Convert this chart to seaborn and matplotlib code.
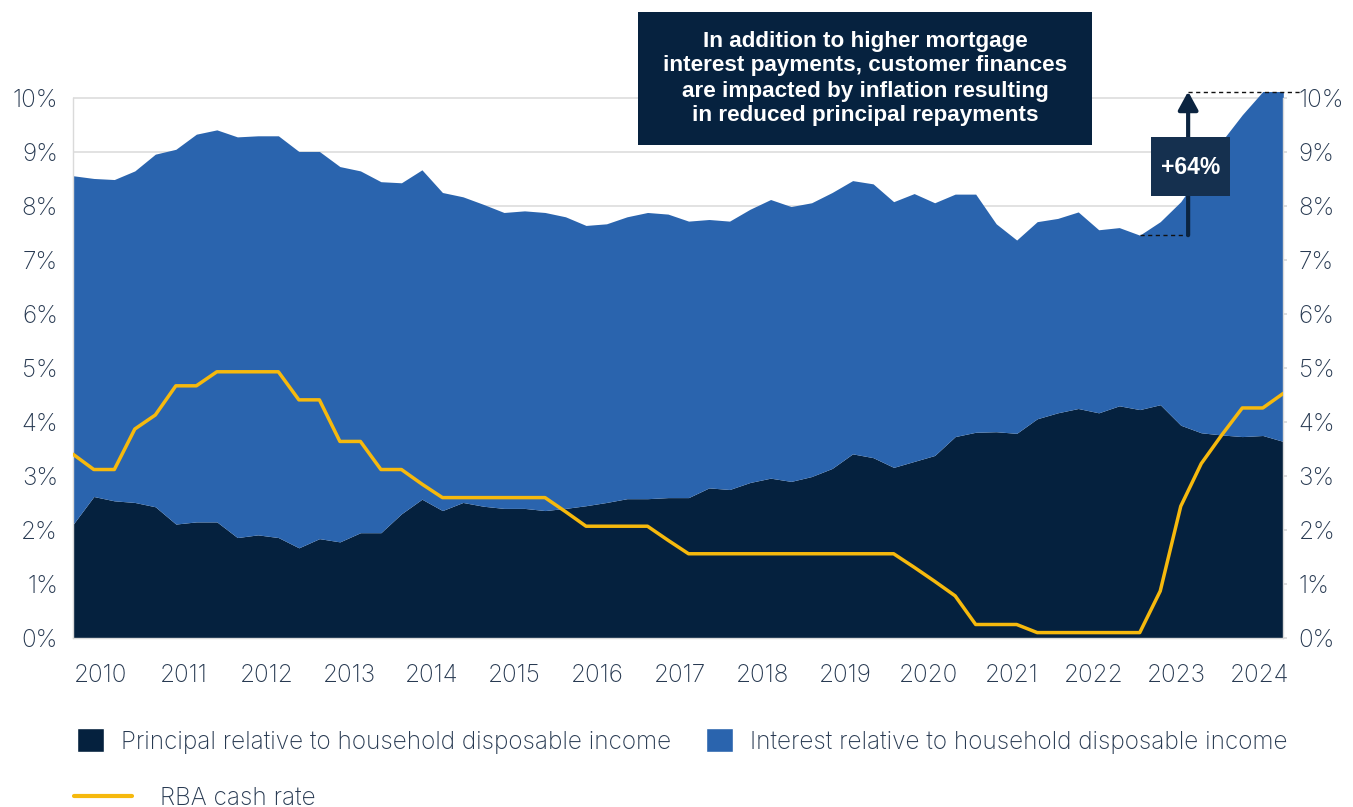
import numpy as np
import pandas as pd
import matplotlib
matplotlib.use("Agg")
import matplotlib.pyplot as plt
from matplotlib.patches import Rectangle, Patch
from matplotlib.lines import Line2D
import seaborn as sns

# Quarterly observations, March 2009 to December 2023
quarters = pd.period_range("2009Q1", "2023Q4", freq="Q").astype(str)

principal = [2.11, 2.62, 2.54, 2.51, 2.43, 2.11, 2.15, 2.15, 1.86, 1.91,
             1.86, 1.67, 1.84, 1.78, 1.95, 1.95, 2.30, 2.57, 2.36, 2.51,
             2.44, 2.40, 2.40, 2.36, 2.40, 2.45, 2.51, 2.58, 2.58, 2.60,
             2.60, 2.78, 2.75, 2.88, 2.96, 2.90, 2.99, 3.14, 3.41, 3.34,
             3.16, 3.27, 3.38, 3.73, 3.81, 3.82, 3.79, 4.06, 4.17, 4.25,
             4.17, 4.30, 4.23, 4.32, 3.94, 3.80, 3.76, 3.73, 3.75, 3.64]

interest = [6.45, 5.89, 5.95, 6.14, 6.53, 6.94, 7.18, 7.26, 7.42, 7.39,
            7.44, 7.34, 7.17, 6.95, 6.70, 6.50, 6.13, 6.10, 5.89, 5.66,
            5.59, 5.48, 5.51, 5.52, 5.40, 5.19, 5.16, 5.22, 5.30, 5.25,
            5.12, 4.97, 4.97, 5.06, 5.16, 5.09, 5.07, 5.11, 5.06, 5.07,
            4.92, 4.96, 4.68, 4.49, 4.41, 3.85, 3.58, 3.65, 3.60, 3.64,
            3.39, 3.30, 3.23, 3.39, 4.14, 4.82, 5.44, 5.96, 6.37, 6.48]

cash_rate = [3.40, 3.12, 3.12, 3.87, 4.13, 4.67, 4.67, 4.93, 4.93, 4.93,
             4.93, 4.41, 4.41, 3.64, 3.64, 3.12, 3.12, 2.85, 2.60, 2.60,
             2.60, 2.60, 2.60, 2.60, 2.34, 2.07, 2.07, 2.07, 2.07, 1.81,
             1.56, 1.56, 1.56, 1.56, 1.56, 1.56, 1.56, 1.56, 1.56, 1.56,
             1.56, 1.31, 1.05, 0.78, 0.25, 0.25, 0.25, 0.10, 0.10, 0.10,
             0.10, 0.10, 0.10, 0.87, 2.44, 3.23, 3.76, 4.26, 4.26, 4.53]

year_labels = [str(y) for y in range(2010, 2025)]
y_ticks = list(range(0, 11))

legend_labels = ["Principal relative to household disposable income",
                 "Interest relative to household disposable income",
                 "RBA cash rate"]
callout_text = ("In addition to higher mortgage\n"
                "interest payments, customer finances\n"
                "are impacted by inflation resulting\n"
                "in reduced principal repayments")
change_label = "+64%"

# Colours
NAVY = "#05213e"
BLUE = "#2a64ae"
GOLD = "#f6b90d"
BOX = "#06223f"
BOX2 = "#15304f"
TEXT = "#283a52"
GRID = "#dadada"

df = pd.DataFrame({"quarter": quarters, "pos": np.arange(len(quarters)),
                   "principal": principal, "interest": interest,
                   "cash_rate": cash_rate})
df["total"] = df["principal"] + df["interest"]

W, H, DPI = 1353, 807, 100
sns.set_theme(style="white")
plt.rcParams["font.family"] = ["Inter", "DejaVu Sans"]
plt.rcParams["font.weight"] = "light"

fig = plt.figure(figsize=(W / DPI, H / DPI), dpi=DPI)


def fx(px):
    return px / W


def fy(py):
    return 1 - py / H


ax = fig.add_axes([fx(73.3), fy(638), fx(1283.3) - fx(73.3), fy(81.8) - fy(638)])

# Stacked areas
ax.stackplot(df["pos"], df["principal"], df["interest"],
             colors=[NAVY, BLUE], linewidth=0, zorder=2)

# Cash rate line
sns.lineplot(data=df, x="pos", y="cash_rate", color=GOLD, linewidth=2.5,
             ax=ax, zorder=4, legend=False)

ax.set_xlim(0, len(df) - 1)
ax.set_ylim(0, 10.3)
ax.set_xlabel("")
ax.set_ylabel("")

ax.set_yticks(y_ticks)
ax.set_yticklabels([f"{v}%" for v in y_ticks])
label_pos = [1.35 + 4.035 * k for k in range(len(year_labels))]
ax.set_xticks(label_pos)
ax.set_xticklabels(year_labels)

TICK_SIZE = 17.5
ax.tick_params(axis="x", length=0, pad=19, labelsize=TICK_SIZE, labelcolor=TEXT)
ax.tick_params(axis="y", left=False, right=True, length=3, color=GRID,
               labelleft=True, labelright=True, pad=8, labelsize=TICK_SIZE,
               labelcolor=TEXT)

ax.yaxis.grid(True, color=GRID, linewidth=1.1)
ax.xaxis.grid(False)
ax.set_axisbelow(True)
for side in ("left", "right", "bottom"):
    ax.spines[side].set_color(GRID)
    ax.spines[side].set_linewidth(1.0)
ax.spines["left"].set_bounds(0, 10)
ax.spines["right"].set_bounds(0, 10)
ax.spines["top"].set_visible(False)

# Change marker: dashed guides and arrow from the 2022 trough to the latest level
i_lo = 52
arrow_x = 54.36
lo = df["total"].iloc[i_lo]
hi = df["total"].iloc[-1]
ax.plot([i_lo, arrow_x], [lo, lo], color="#111111", lw=1.0,
        ls=(0, (3, 2.5)), zorder=6)
ax.plot([arrow_x, 59.8], [hi, hi], color="#111111", lw=1.0,
        ls=(0, (3, 2.5)), zorder=6, clip_on=False)
ax.annotate("", xy=(arrow_x, hi), xytext=(arrow_x, lo),
            arrowprops=dict(arrowstyle="-|>,head_length=0.55,head_width=0.3",
                            color="#0b2440", lw=3, mutation_scale=20,
                            shrinkA=0, shrinkB=0),
            zorder=7, annotation_clip=False)

# +64% label box
fig.add_artist(Rectangle((fx(1151), fy(196)), fx(1230) - fx(1151),
                         fy(137) - fy(196), transform=fig.transFigure,
                         facecolor=BOX2, edgecolor="none", zorder=10))
fig.text(fx(1190.5), fy(168), change_label, ha="center", va="center",
         color="white", fontsize=16.5, fontweight="bold",
         family=["Liberation Sans"], zorder=11)

# Callout box
fig.add_artist(Rectangle((fx(638), fy(145)), fx(1092) - fx(638),
                         fy(12) - fy(145), transform=fig.transFigure,
                         facecolor=BOX, edgecolor="none", zorder=10))
fig.text(fx(865), fy(78.5), callout_text, ha="center", va="center",
         multialignment="center", color="white", fontsize=16.2,
         fontweight="bold", family=["Liberation Sans"], linespacing=1.25,
         zorder=11)

# Legends
prop = {"size": TICK_SIZE, "weight": "light"}
em = TICK_SIZE * DPI / 72.0
leg1 = fig.legend([Patch(facecolor=NAVY), Patch(facecolor=BLUE)],
                  legend_labels[:2], loc="center left",
                  bbox_to_anchor=(fx(77), fy(741)), ncol=2, frameon=False,
                  prop=prop, handlelength=27 / em, handleheight=27 / em,
                  handletextpad=17 / em, columnspacing=35 / em, borderpad=0,
                  borderaxespad=0, labelcolor=TEXT)
leg2 = fig.legend([Line2D([0], [0], color=GOLD, lw=3)], legend_labels[2:],
                  loc="center left", bbox_to_anchor=(fx(74), fy(798)),
                  frameon=False, prop=prop, handlelength=58 / em,
                  handletextpad=28 / em, borderpad=0, borderaxespad=0,
                  labelcolor=TEXT)

fig.savefig("out.png", dpi=DPI)
